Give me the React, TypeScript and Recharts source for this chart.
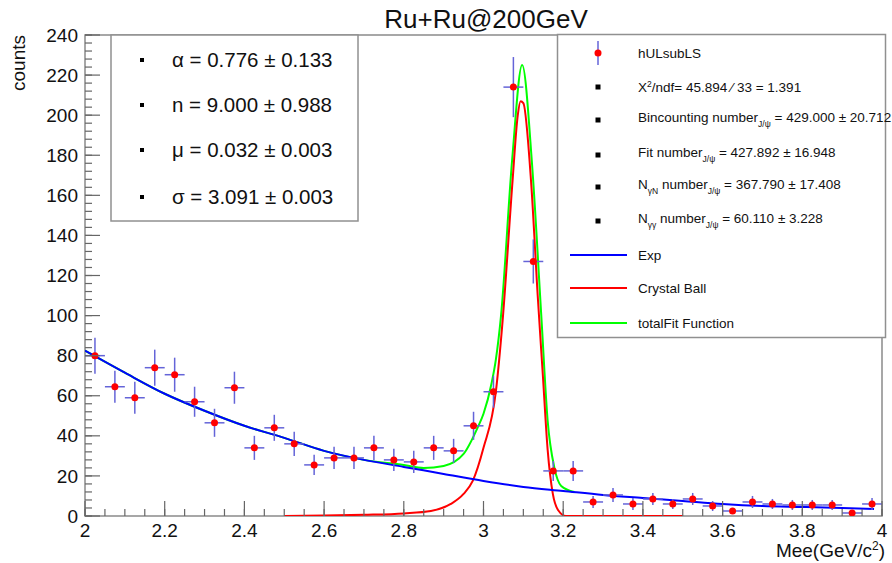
import React from 'react';
import { ComposedChart, Line, Scatter, ErrorBar, XAxis, YAxis, ReferenceArea, Legend } from 'recharts';

// hULsubLS histogram (bin centres, counts, stat errors)
const binCenters = [
  2.025, 2.075, 2.125, 2.175, 2.225, 2.275, 2.325, 2.375, 2.425, 2.475,
  2.525, 2.575, 2.625, 2.675, 2.725, 2.775, 2.825, 2.875, 2.925, 2.975,
  3.025, 3.075, 3.125, 3.175, 3.225, 3.275, 3.325, 3.375, 3.425, 3.475,
  3.525, 3.575, 3.625, 3.675, 3.725, 3.775, 3.825, 3.875, 3.925, 3.975,
];
const counts = [
  80, 64.5, 59, 74, 70.5, 57, 46.5, 64, 34, 44,
  36, 25.5, 29, 29, 34, 28, 27, 34, 32.5, 45,
  62, 214, 127, 22.5, 22.5, 7, 10.5, 6, 8.5, 6,
  8.5, 5, 2.5, 7, 6, 5.5, 5.5, 5.5, 1.5, 6,
];
const countErrors = [
  9, 8, 8, 9, 8.5, 7.5, 7, 8, 6, 6.5,
  6, 5, 5.5, 5.5, 6, 5.5, 5.5, 6, 6, 7,
  8, 15, 11, 5, 5, 3, 3.5, 3, 3, 2.5,
  3, 2.5, 1.5, 3, 2.5, 2.5, 2.5, 2.5, 1.5, 3,
];
const binHalfWidth = 0.025;

// fit curves
const expX = [2.0, 2.1, 2.2, 2.3, 2.4, 2.5, 2.6, 2.7, 2.8, 2.9, 3.0, 3.1, 3.2, 3.3, 3.4, 3.5, 3.6, 3.7, 3.8, 3.9, 3.98];
const expY = [82.5, 71.5, 61, 52.5, 45, 39, 32.5, 28, 24.5, 21, 17.5, 14.5, 12.5, 10.5, 9, 7.5, 6, 5, 4.5, 4, 3.5];

const cbX = [2.5, 2.6, 2.7, 2.8, 2.868, 2.918, 2.95, 2.973, 3.0, 3.031, 3.048, 3.073, 3.086, 3.093, 3.1, 3.12, 3.136, 3.149, 3.161, 3.174, 3.187, 3.207, 3.5];
const cbY = [0, 0.2, 0.6, 1.3, 2.5, 6, 11, 17.5, 34, 62, 97.5, 167.5, 200, 207, 206, 165, 110, 70, 33, 11, 3, 0, 0];

const totalX = [2.0, 2.1, 2.2, 2.3, 2.4, 2.5, 2.6, 2.7, 2.8, 2.85, 2.9, 2.95, 2.985, 3.0, 3.02, 3.031, 3.044, 3.072, 3.097, 3.122, 3.145, 3.161, 3.178, 3.195, 3.228];
const totalY = [82.5, 71.5, 61, 52.5, 45, 39, 32.5, 28, 25.5, 24, 25, 31, 44, 51, 66, 78, 100, 178, 225, 175, 100, 47.5, 24, 15, 12];

const xMajorTicks = [2, 2.2, 2.4, 2.6, 2.8, 3, 3.2, 3.4, 3.6, 3.8, 4];
const xAllTicks = [
  2, 2.05, 2.1, 2.15, 2.2, 2.25, 2.3, 2.35, 2.4, 2.45, 2.5, 2.55, 2.6, 2.65, 2.7, 2.75, 2.8, 2.85, 2.9, 2.95,
  3, 3.05, 3.1, 3.15, 3.2, 3.25, 3.3, 3.35, 3.4, 3.45, 3.5, 3.55, 3.6, 3.65, 3.7, 3.75, 3.8, 3.85, 3.9, 3.95, 4,
];
const yMajorTicks = [0, 20, 40, 60, 80, 100, 120, 140, 160, 180, 200, 220, 240];
const yAllTicks = [
  0, 4, 8, 12, 16, 20, 24, 28, 32, 36, 40, 44, 48, 52, 56, 60, 64, 68, 72, 76, 80, 84, 88, 92, 96, 100,
  104, 108, 112, 116, 120, 124, 128, 132, 136, 140, 144, 148, 152, 156, 160, 164, 168, 172, 176, 180,
  184, 188, 192, 196, 200, 204, 208, 212, 216, 220, 224, 228, 232, 236, 240,
];

const fitParams = [
  { name: 'α', value: '0.776', error: '0.133' },
  { name: 'n', value: '9.000', error: '0.988' },
  { name: 'μ', value: '0.032', error: '0.003' },
  { name: 'σ', value: '3.091', error: '0.003' },
];

const points = binCenters.map((x, i) => ({ x, y: counts[i], ey: countErrors[i], ex: binHalfWidth }));
const expData = expX.map((x, i) => ({ x, y: expY[i] }));
const cbData = cbX.map((x, i) => ({ x, y: cbY[i] }));
const totalData = totalX.map((x, i) => ({ x, y: totalY[i] }));

const FONT = '"Liberation Sans", Arial, Helvetica, sans-serif';
const AXIS_GREY = '#666';
const ERR_BLUE = '#6464d8';
const MINOR = 7; // minor tick length (native tick line, drawn inward)
const MAJOR = 15;

const isMajor = (list: number[], v: number) => list.some((t) => Math.abs(t - v) < 1e-6);

// native tick lines point into the frame (negative tickSize); majors get extended here
const XTick = (props: any) => {
  const x = Number(props.x);
  const axisY = Number(props.y) + MINOR;
  const v = Number(props.payload.value);
  if (!isMajor(xMajorTicks, v)) return <g />;
  return (
    <g>
      <path d={`M${x},${axisY}V${axisY - MAJOR}`} stroke={AXIS_GREY} strokeWidth={1.2} fill="none" />
      <text x={x} y={axisY + 21} textAnchor="middle" fontSize={19} fontFamily={FONT} fill="#111">
        {String(v)}
      </text>
    </g>
  );
};

const YTick = (props: any) => {
  const axisX = Number(props.x) - MINOR;
  const y = Number(props.y);
  const v = Number(props.payload.value);
  if (!isMajor(yMajorTicks, v)) return <g />;
  return (
    <g>
      <path d={`M${axisX},${y}H${axisX + MAJOR}`} stroke={AXIS_GREY} strokeWidth={1.2} fill="none" />
      <text x={axisX - 7} y={y} dy="0.35em" textAnchor="end" fontSize={19} fontFamily={FONT} fill="#111">
        {String(v)}
      </text>
    </g>
  );
};

const StatBox = () => {
  const rowY = [19, 53, 86, 121, 153, 187, 221, 254, 289];
  const tx = 81;
  const mx = 41;
  const square = (y: number) => <rect x={mx - 2.5} y={y - 2.5} width={5} height={5} fill="#000" />;
  return (
    <svg width={330} height={305} style={{ display: 'block', overflow: 'visible' }}>
      <rect x={0.5} y={0.5} width={328} height={303} fill="#fff" stroke="#909090" strokeWidth={1.5} />
      <g fontFamily={FONT} fontSize={13.5} fill="#111" style={{ whiteSpace: 'pre' }}>
        <line x1={mx} x2={mx} y1={rowY[0] - 12} y2={rowY[0] + 12} stroke={ERR_BLUE} strokeWidth={1.5} />
        <circle cx={mx} cy={rowY[0]} r={3.5} fill="#ff0000" />
        <text x={tx} y={rowY[0]} dy="0.35em">hULsubLS</text>

        {square(rowY[1])}
        <text x={tx} y={rowY[1]} dy="0.35em">
          X<tspan dy={-5} fontSize={8.5}>2</tspan>
          <tspan dy={5}>/ndf= 45.894 ⁄  33 = 1.391</tspan>
        </text>

        {square(rowY[2])}
        <text x={tx} y={rowY[2] - 3} dy="0.35em">
          Bincounting number<tspan dy={5} fontSize={8.5}>J/ψ</tspan>
          <tspan dy={-5}> = 429.000 ± 20.712</tspan>
        </text>

        {square(rowY[3])}
        <text x={tx} y={rowY[3] - 3} dy="0.35em">
          Fit number<tspan dy={5} fontSize={8.5}>J/ψ</tspan>
          <tspan dy={-5}> = 427.892 ± 16.948</tspan>
        </text>

        {square(rowY[4])}
        <text x={tx} y={rowY[4] - 3} dy="0.35em">
          N<tspan dy={5} fontSize={8.5}>γN</tspan>
          <tspan dy={-5}> number</tspan>
          <tspan dy={5} fontSize={8.5}>J/ψ</tspan>
          <tspan dy={-5}> = 367.790 ± 17.408</tspan>
        </text>

        {square(rowY[5])}
        <text x={tx} y={rowY[5] - 3} dy="0.35em">
          N<tspan dy={5} fontSize={8.5}>γγ</tspan>
          <tspan dy={-5}> number</tspan>
          <tspan dy={5} fontSize={8.5}>J/ψ</tspan>
          <tspan dy={-5}> = 60.110 ± 3.228</tspan>
        </text>

        <line x1={13} x2={70} y1={rowY[6]} y2={rowY[6]} stroke="#0000ff" strokeWidth={2} />
        <text x={tx} y={rowY[6]} dy="0.35em">Exp</text>
        <line x1={13} x2={70} y1={rowY[7]} y2={rowY[7]} stroke="#ff0000" strokeWidth={2} />
        <text x={tx} y={rowY[7]} dy="0.35em">Crystal Ball</text>
        <line x1={13} x2={70} y1={rowY[8]} y2={rowY[8]} stroke="#00ff00" strokeWidth={2} />
        <text x={tx} y={rowY[8]} dy="0.35em">totalFit Function</text>
      </g>
    </svg>
  );
};

export default function App() {
  return (
    <div style={{ position: 'absolute', left: 0, top: 0, width: 892, height: 563, background: '#fff', fontFamily: FONT }}>
      <ComposedChart width={892} height={563} margin={{ top: 35, right: 10, bottom: 0, left: 0 }}>
        <XAxis
          type="number"
          dataKey="x"
          domain={[2, 4]}
          ticks={xAllTicks}
          interval={0}
          height={47}
          axisLine={false}
          tickLine={{ stroke: AXIS_GREY, strokeWidth: 1.2 }}
          tickSize={-MINOR}
          tickMargin={0}
          tick={<XTick />}
          allowDataOverflow
        />
        <YAxis
          type="number"
          dataKey="y"
          domain={[0, 240]}
          ticks={yAllTicks}
          interval={0}
          width={85}
          axisLine={false}
          tickLine={{ stroke: AXIS_GREY, strokeWidth: 1.2 }}
          tickSize={-MINOR}
          tickMargin={0}
          tick={<YTick />}
          allowDataOverflow
        />
        <ReferenceArea x1={2} x2={4} y1={0} y2={240} fill="none" stroke="#8a8a8a" strokeWidth={1.5} />
        <Line data={totalData} dataKey="y" name="totalFit Function" type="monotone" stroke="#00ff00" strokeWidth={2} dot={false} activeDot={false} isAnimationActive={false} />
        <Line data={cbData} dataKey="y" name="Crystal Ball" type="monotone" stroke="#ff0000" strokeWidth={2} dot={false} activeDot={false} isAnimationActive={false} />
        <Line data={expData} dataKey="y" name="Exp" type="monotone" stroke="#0000ff" strokeWidth={2} dot={false} activeDot={false} isAnimationActive={false} />
        <Scatter
          data={points}
          dataKey="y"
          name="hULsubLS"
          fill="#ff0000"
          isAnimationActive={false}
          shape={(p: any) => <circle cx={p.cx} cy={p.cy} r={3.5} fill="#ff0000" />}
        >
          <ErrorBar dataKey="ey" direction="y" width={0} stroke={ERR_BLUE} strokeWidth={1.5} />
          <ErrorBar dataKey="ex" direction="x" width={0} stroke={ERR_BLUE} strokeWidth={1.5} />
        </Scatter>
        <Legend
          layout="vertical"
          align="center"
          verticalAlign="middle"
          width={330}
          height={305}
          wrapperStyle={{ left: 557, top: 34, width: 330, height: 305 }}
          content={() => <StatBox />}
        />
      </ComposedChart>

      <svg width={892} height={563} style={{ position: 'absolute', left: 0, top: 0, pointerEvents: 'none' }}>
        <text x={486} y={28} textAnchor="middle" fontSize={26} fontFamily={FONT} fill="#111">
          Ru+Ru@200GeV
        </text>
        <text x={25} y={35} transform="rotate(-90 25 35)" textAnchor="end" fontSize={19} fontFamily={FONT} fill="#111">
          counts
        </text>
        <text x={885} y={557} textAnchor="end" fontSize={19} fontFamily={FONT} fill="#111">
          Mee(GeV/c<tspan dy={-7} fontSize={12}>2</tspan>
          <tspan dy={7}>)</tspan>
        </text>

        <rect x={111} y={35} width={247} height={186} fill="#fff" stroke="#909090" strokeWidth={1.5} />
        {fitParams.map((p, i) => {
          const cy = [60, 105, 150, 197][i];
          return (
            <g key={p.name}>
              <rect x={140} y={cy - 2} width={4} height={4} fill="#000" />
              <text x={172} y={cy} dy="0.35em" fontSize={20.5} fontFamily={FONT} fill="#111">
                {`${p.name} = ${p.value} ± ${p.error}`}
              </text>
            </g>
          );
        })}
      </svg>
    </div>
  );
}
